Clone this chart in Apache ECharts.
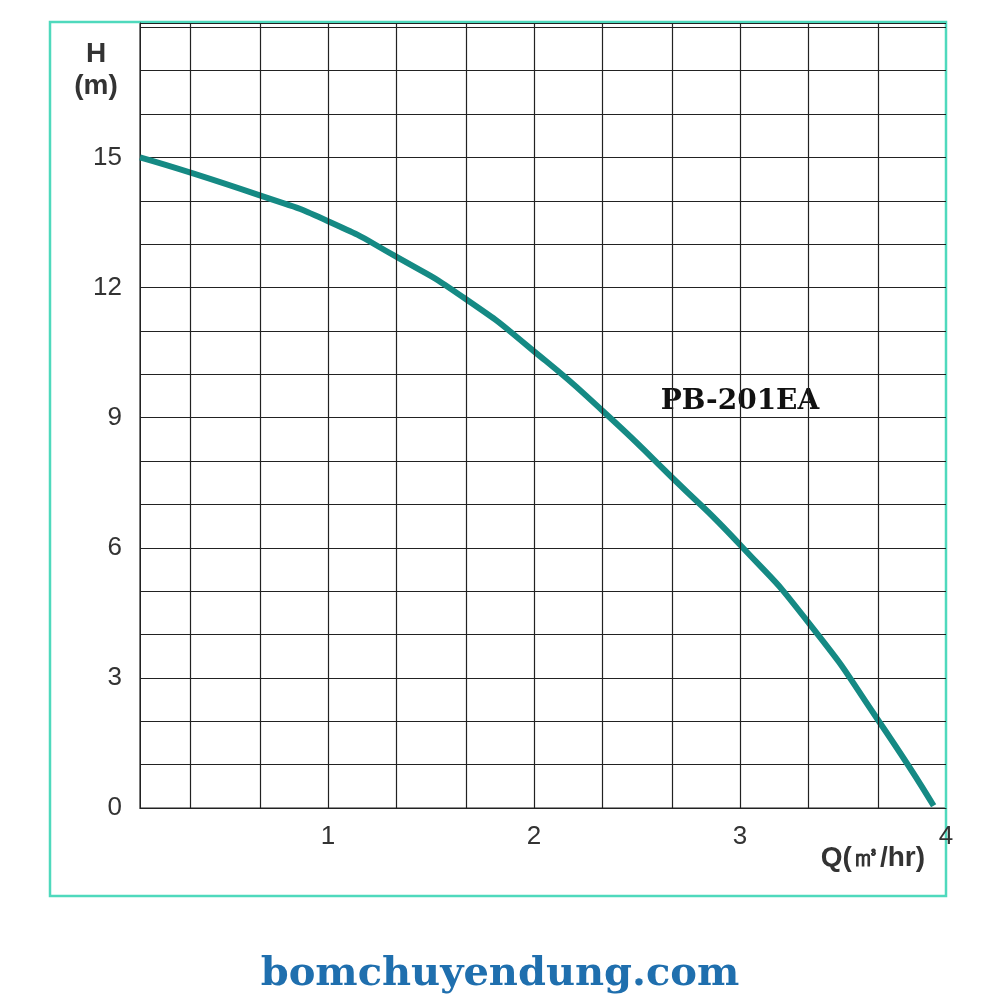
<!DOCTYPE html><html><head><meta charset="utf-8"><script src="https://cdn.jsdelivr.net/npm/echarts@6/dist/echarts.min.js"></script>
<style>html,body{margin:0;background:#fff}#c{width:1000px;height:1000px}</style></head><body><div id="c"></div><script>
const flowQ=[0.087,0.665,1,1.335,1.67,2,2.335,2.67,3,3.34,3.67,3.94];
const headH=[15,14.13,13.53,12.7,11.73,10.53,9.15,7.62,6.07,4.23,2.03,0.05];
const xTicks=[1,2,3,4];
const yTicks=[0,3,6,9,12,15];
const vLines=[0.333,0.667,1,1.333,1.667,2,2.333,2.667,3,3.333,3.667];
const ch=echarts.init(document.getElementById('c'));
ch.setOption({
 animation:false,
 grid:{left:140,top:23,right:54,bottom:192,show:true,borderColor:'#222',borderWidth:1.2},
 xAxis:{type:'value',min:0.087,max:4,splitLine:{show:false},axisLine:{lineStyle:{color:'#222'}},axisTick:{show:false},
  axisLabel:{customValues:xTicks,fontFamily:'Liberation Sans',fontSize:26,color:'#333',margin:16}},
 yAxis:{type:'value',min:0,max:18.1,interval:1,splitLine:{lineStyle:{color:'#222',width:1.2}},axisLine:{lineStyle:{color:'#222'}},axisTick:{show:false},
  axisLabel:{fontFamily:'Liberation Sans',fontSize:26,color:'#333',margin:18,formatter:v=>yTicks.includes(v)?String(v):''}},
 series:[{type:'line',data:flowQ.map((q,i)=>[q,headH[i]]),smooth:0.6,symbol:'none',lineStyle:{color:'#158a84',width:6},
  markLine:{silent:true,symbol:'none',label:{show:false},lineStyle:{color:'#222',width:1.2,type:'solid'},data:vLines.map(v=>({xAxis:v}))}}],
 graphic:[
  {type:'rect',shape:{x:50,y:22,width:896,height:874},style:{fill:'none',stroke:'#4fd9bd',lineWidth:2.5}},
  {type:'text',x:96,y:38,style:{text:'H\n(m)',align:'center',font:'bold 28px "Liberation Sans"',fill:'#333',lineHeight:32}},
  {type:'text',x:925,y:858,style:{text:'Q(㎥/hr)',align:'right',verticalAlign:'middle',font:'bold 28px "Liberation Sans"',fill:'#333'}},
  {type:'text',x:740,y:402,style:{text:'PB-201EA',align:'center',verticalAlign:'middle',font:'bold 28px "DejaVu Serif"',fill:'#111'}},
  {type:'text',x:500,y:975,style:{text:'bomchuyendung.com',align:'center',verticalAlign:'middle',font:'bold 40px "DejaVu Serif"',fill:'#1f6fae'}}
 ]
});
</script></body></html>
